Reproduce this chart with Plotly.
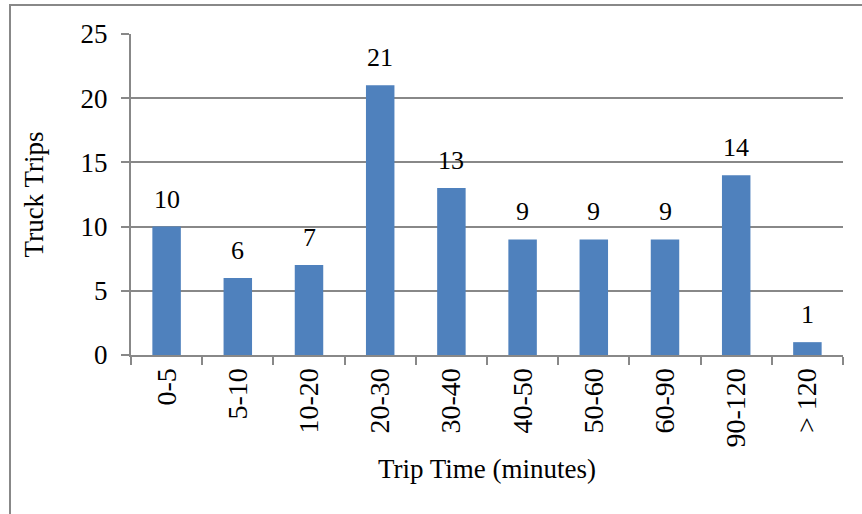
import plotly.graph_objects as go

categories = ["0-5", "5-10", "10-20", "20-30", "30-40", "40-50", "50-60", "60-90", "90-120", "> 120"]
trips = [10, 6, 7, 21, 13, 9, 9, 9, 14, 1]
y_ticks = [0, 5, 10, 15, 20, 25]

FONT = "Liberation Serif, Times New Roman, serif"
GRAY = "#888888"

fig = go.Figure()
fig.add_trace(go.Bar(
    x=categories, y=trips,
    marker=dict(color="#4F81BD", line=dict(color="#4F81BD", width=0)),
    showlegend=False,
))
for c, v in zip(categories, trips):
    fig.add_annotation(x=c, y=v, text=str(v), showarrow=False,
                       yanchor="bottom", yshift=11,
                       font=dict(family=FONT, size=26, color="black"))

fig.update_layout(
    width=862, height=514,
    margin=dict(l=131, r=19, t=34, b=159),
    paper_bgcolor="white", plot_bgcolor="white",
    bargap=0.6,
    font=dict(family=FONT, size=26, color="black"),
    shapes=[dict(type="rect", xref="paper", yref="paper",
                 x0=-121/712, x1=1.2, y0=-2, y1=(355-5)/321,
                 line=dict(color=GRAY, width=2), fillcolor="rgba(0,0,0,0)", layer="below")],
)
fig.update_xaxes(
    type="category", tickangle=-90, showline=True, linecolor=GRAY, linewidth=2,
    ticks="outside", ticklen=8, tickcolor=GRAY, tickwidth=2, tickson="boundaries",
    showgrid=False,
    title=dict(text="Trip Time (minutes)", font=dict(family=FONT, size=27), standoff=13),
    tickfont=dict(family=FONT, size=28), range=[-0.5, 9.5],
)
fig.update_yaxes(
    range=[0, 25], tickvals=y_ticks, showline=True, linecolor=GRAY, linewidth=2,
    ticks="outside", ticklen=8, tickcolor=GRAY, tickwidth=2,
    showgrid=True, gridcolor=GRAY, gridwidth=2, zeroline=False,
    ticklabelstandoff=8,
    title=dict(text="Truck Trips", font=dict(family=FONT, size=27), standoff=29),
    tickfont=dict(family=FONT, size=27),
)
fig.write_html("out.html")
